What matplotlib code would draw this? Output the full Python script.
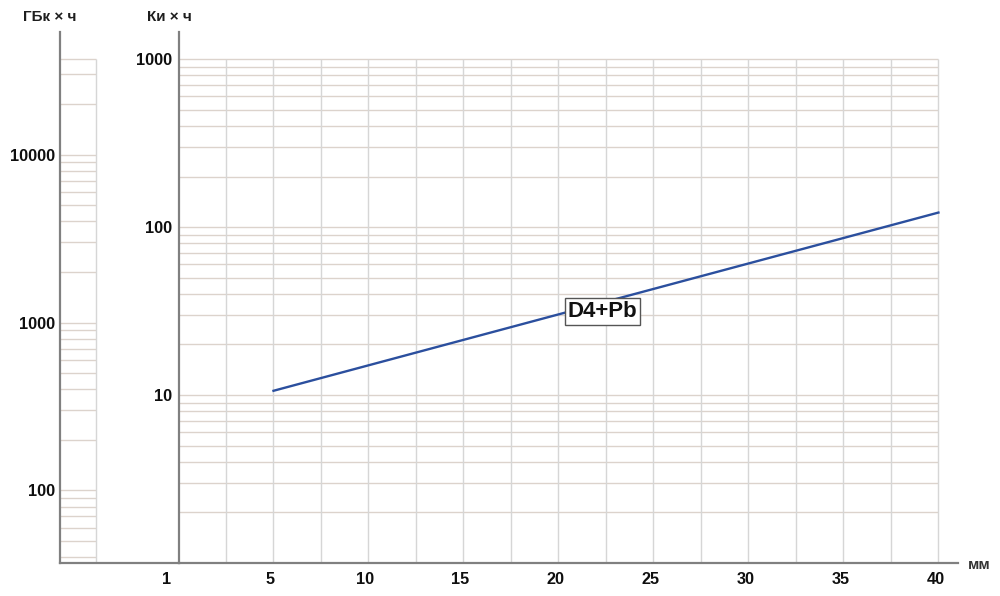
import numpy as np
import matplotlib.pyplot as plt
import matplotlib.transforms as mtransforms

# === Данные ===
dist_mm = [5, 40]            # толщина, мм
activity_ci = [10.6, 122]    # Ки × ч
x_ticks = [5, 10, 15, 20, 25, 30, 35, 40]
ci_ticks = [10, 100, 1000]
gbq_ticks = [100, 1000, 10000]
ci_to_gbq = 37.0             # 1 Ки = 37 ГБк
curve_label = 'D4+Pb'

plt.rcParams['font.family'] = ['Liberation Sans', 'DejaVu Sans']
plt.rcParams['font.weight'] = 'bold'

grid_h = '#dcd3cc'
grid_v = '#d6d6d6'
spine_c = '#808080'
text_c = '#0f0f0f'

fig = plt.figure(figsize=(10, 5.96), dpi=100)
bottom = 33 / 596
height = 531 / 596
y_top = 1450

# ---- основной график (Ки × ч) ----
ax = fig.add_axes([0.1785, bottom, 0.7795, height])
ax.set_yscale('log')
ax.set_ylim(1, y_top)
ax.set_xlim(0, 41.03)

minor_ci = [m * 10 ** k for k in range(0, 3) for m in range(1, 10)] + [1000]
ax.hlines(minor_ci[1:], 0, 40, colors=grid_h, lw=1.0, zorder=1)
ax.vlines(np.arange(2.5, 40.1, 2.5), 1, 1000, colors=grid_v, lw=1.0, zorder=1)

ax.plot(dist_mm, activity_ci, color='#2b4f9e', lw=1.7, zorder=3)
ax.text(22.3, 31.5, curve_label, fontsize=16, fontweight='bold', color='#111111',
        ha='center', va='center', zorder=4,
        bbox=dict(boxstyle='square,pad=0.12', fc='white', ec='#555555', lw=1.0))

for s in ['top', 'right']:
    ax.spines[s].set_visible(False)
for s in ['left', 'bottom']:
    ax.spines[s].set_color(spine_c)
    ax.spines[s].set_linewidth(1.6)

ax.set_yticks(ci_ticks)
ax.set_yticklabels([str(v) for v in ci_ticks])
ax.yaxis.set_minor_locator(plt.NullLocator())
ax.set_xticks(x_ticks)
ax.set_xticklabels([str(v) for v in x_ticks])
ax.tick_params(axis='y', length=0, pad=4.5, labelsize=11.7, labelcolor=text_c)
ax.tick_params(axis='x', length=0, pad=6.5, labelsize=11.7, labelcolor=text_c)
shift = mtransforms.ScaledTranslation(-3 / 100, 0, fig.dpi_scale_trans)
for lab in ax.get_xticklabels():
    lab.set_transform(lab.get_transform() + shift)
ax.annotate('1', xy=(0, 1), xytext=(-11.5, -16), textcoords='offset pixels',
            ha='center', va='center', fontsize=11.7, fontweight='bold', color=text_c)

# ---- левая шкала (ГБк × ч) ----
axl = fig.add_axes([0.060, bottom, 0.1185, height])
axl.set_yscale('log')
axl.set_ylim(ci_to_gbq, ci_to_gbq * y_top)
axl.set_xlim(0, 118.5)
axl.patch.set_alpha(0)

minor_gbq = [m * 10 ** k for k in range(1, 5) for m in range(1, 10)]
minor_gbq = [v for v in minor_gbq if ci_to_gbq < v <= ci_to_gbq * 1000]
minor_gbq.append(ci_to_gbq * 1000)
axl.hlines(minor_gbq, 0, 36, colors=grid_h, lw=1.0, zorder=1)
axl.vlines(36, ci_to_gbq, ci_to_gbq * 1000, colors=grid_v, lw=1.0, zorder=1)

for s in ['top', 'right']:
    axl.spines[s].set_visible(False)
for s in ['left', 'bottom']:
    axl.spines[s].set_color(spine_c)
    axl.spines[s].set_linewidth(1.6)
axl.set_xticks([])
axl.set_yticks(gbq_ticks)
axl.set_yticklabels([str(v) for v in gbq_ticks])
axl.yaxis.set_minor_locator(plt.NullLocator())
axl.tick_params(axis='y', length=0, pad=3.6, labelsize=11.7, labelcolor=text_c)

# ---- подписи осей ----
fig.text(0.0495, 1 - 17 / 596, 'ГБк × ч', ha='center', va='center',
         fontsize=11, fontweight='bold', color='#1e1e1e')
fig.text(0.169, 1 - 17 / 596, 'Ки × ч', ha='center', va='center',
         fontsize=11, fontweight='bold', color='#1e1e1e')
fig.text(0.979, 1 - 565 / 596, 'мм', ha='center', va='center',
         fontsize=11, fontweight='bold', color='#333333')

fig.savefig('out.png', dpi=100)
